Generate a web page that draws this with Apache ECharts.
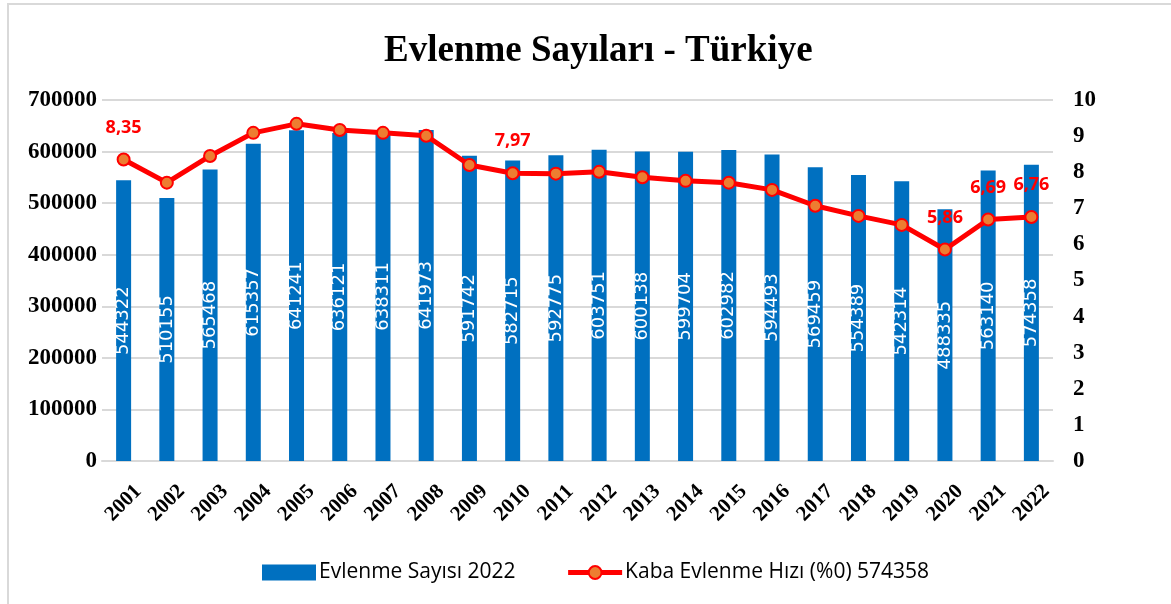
<!DOCTYPE html>
<html><head><meta charset="utf-8">
<script src="https://cdn.jsdelivr.net/npm/echarts@6/dist/echarts.min.js"></script>
<style>html,body{margin:0;padding:0;background:#fff}#c{width:1171px;height:604px}</style>
</head><body><div id="c"></div>
<script>
const years = ['2001','2002','2003','2004','2005','2006','2007','2008','2009','2010','2011','2012','2013','2014','2015','2016','2017','2018','2019','2020','2021','2022'];
const marriages = [544322,510155,565468,615357,641241,636121,638311,641973,591742,582715,592775,603751,600138,599704,602982,594493,569459,554389,542314,488335,563140,574358];
const rates = [8.35,7.71,8.45,9.09,9.34,9.17,9.09,9.01,8.20,7.97,7.96,8.01,7.86,7.76,7.71,7.51,7.07,6.79,6.54,5.86,6.69,6.76];
const labeledYears = ['2001','2010','2020','2021','2022'];

const chart = echarts.init(document.getElementById('c'));
const serif = '"Liberation Serif","Times New Roman",serif';
const sans = '"Open Sans","DejaVu Sans",sans-serif';
chart.setOption({
  animation:false,
  backgroundColor:'#fff',
  graphic:[{type:'polyline',shape:{points:[[8,604],[8,4],[1171,4]]},style:{stroke:'#d9d9d9',lineWidth:2,fill:null}}],
  title:{text:'Evlenme Sayıları - Türkiye',left:379,top:28,
    textStyle:{fontFamily:serif,fontWeight:'bold',fontSize:37,color:'#000'}},
  legend:{top:557,left:257,itemGap:50,itemWidth:54,itemHeight:16,
    textStyle:{fontFamily:sans,fontSize:21,color:'#000',padding:[0,0,0,-2]},
    data:[{name:'Evlenme Sayısı 2022',icon:'rect'},
          {name:'Kaba Evlenme Hızı (%0) 574358',lineStyle:{width:5,color:'#FF0000'}}]},
  grid:{left:102,right:118,top:100,bottom:143,containLabel:false},
  xAxis:{type:'category',data:years,
    axisLine:{lineStyle:{color:'#d9d9d9',width:2}},axisTick:{show:false},
    axisLabel:{rotate:45,interval:0,margin:42,align:'center',verticalAlign:'middle',
      fontFamily:serif,fontWeight:'bold',fontSize:21,color:'#000'}},
  yAxis:[
    {type:'value',min:0,max:700000,interval:100000,
      axisLabel:{fontFamily:serif,fontWeight:'bold',fontSize:23,color:'#000',margin:5,formatter:v=>String(v)},
      splitLine:{lineStyle:{color:'#d9d9d9',width:2}},axisLine:{show:false},axisTick:{show:false}},
    {type:'value',min:0,max:10,interval:1,
      axisLabel:{fontFamily:serif,fontWeight:'bold',fontSize:23,color:'#000',margin:20,formatter:v=>String(v)},
      splitLine:{show:false},axisLine:{show:false},axisTick:{show:false}}
  ],
  series:[
    {name:'Evlenme Sayısı 2022',type:'bar',data:marriages,barWidth:15,
      itemStyle:{color:'#0070C0'},
      label:{show:true,position:'inside',rotate:90,color:'#fff',fontFamily:'"DejaVu Sans",sans-serif',fontSize:18}},
    {name:'Kaba Evlenme Hızı (%0) 574358',type:'line',yAxisIndex:1,data:rates,
      lineStyle:{color:'#FF0000',width:5},
      symbol:'circle',symbolSize:12,
      itemStyle:{color:'#ED7D31',borderColor:'#FF0000',borderWidth:2},
      label:{show:true,position:'top',distance:16,color:'#FF0000',fontFamily:sans,fontWeight:'bold',fontSize:18,
        formatter:p=>labeledYears.includes(p.name)?String(p.value.toFixed(2)).replace('.',','):''}}
  ]
});
</script></body></html>
